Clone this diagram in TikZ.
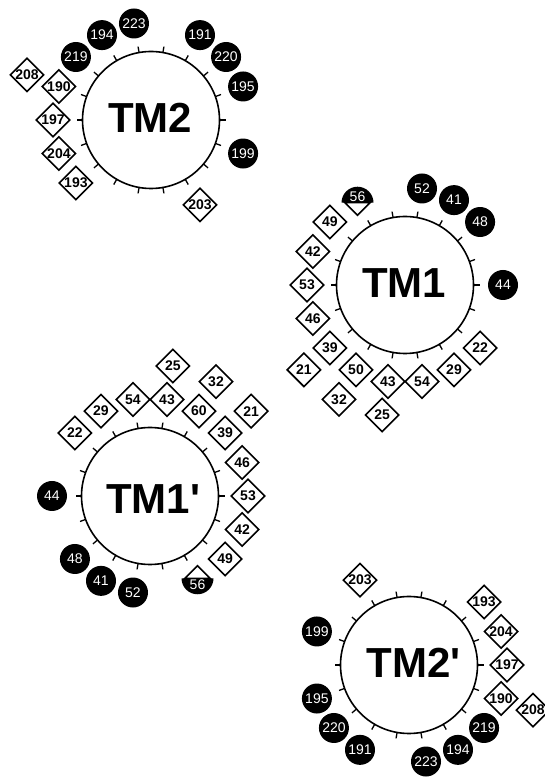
\documentclass[tikz,border=0pt]{standalone}
\usepackage{fontspec}
\usetikzlibrary{shapes.geometric}
\newfontfamily\numfont{Liberation Sans}
\tikzset{
  wheelline/.style={line width=1.6pt},
  tickline/.style={line width=1.3pt},
  blk/.style={circle, fill=black, minimum size=30pt, inner sep=0pt, text=white,
    font=\numfont\fontsize{14}{14}\selectfont},
  dmd/.style={diamond, draw=black, line width=1.6pt, minimum size=34pt, aspect=1,
    inner sep=0pt, font=\numfont\bfseries\fontsize{14}{14}\selectfont},
  halftxt/.style={inner sep=0pt, text=white, font=\numfont\fontsize{14}{14}\selectfont},
  tmlabel/.style={inner sep=0pt, font=\numfont\bfseries\fontsize{42}{42}\selectfont},
  pics/tmtwo/.style={code={
    \draw[wheelline] (0,0) circle[radius=68.5];
    \foreach \a in {0,20,...,340} \draw[tickline] (\a:68.5) -- (\a:74.5);
    \node[blk] (-r195) at (20:98) {195};
    \node[blk] (-r220) at (40:98) {220};
    \node[blk] (-r191) at (60:98) {191};
    \node[blk] (-r223) at (100:98) {223};
    \node[blk] (-r194) at (120:98) {194};
    \node[blk] (-r219) at (140:98) {219};
    \node[blk] (-r199) at (340:98) {199};
    \node[dmd] (-r190) at (160:98) {190};
    \node[dmd] (-r197) at (180:98) {197};
    \node[dmd] (-r204) at (200:98) {204};
    \node[dmd] (-r193) at (220:98) {193};
    \node[dmd] (-r203) at (300:98) {203};
    \node[dmd] (-r208) at (160:132) {208};
  }},
  pics/tmone/.style={code={
    \draw[wheelline] (0,0) circle[radius=68.5];
    \foreach \a in {0,20,...,340} \draw[tickline] (\a:68.5) -- (\a:74.5);
    \node[blk] (-r44) at (0:98) {44};
    \node[blk] (-r48) at (40:98) {48};
    \node[blk] (-r41) at (60:98) {41};
    \node[blk] (-r52) at (80:98) {52};
    \coordinate (-c56) at (120:95);
    \fill (-c56) ++(16,0) arc[start angle=0, end angle=180, radius=16] -- cycle;
    \draw[line width=1.5pt, fill=white] (-c56) ++(-12.5,0) -- ++(12.5,-12.5) -- ++(12.5,12.5) -- cycle;
    \path (-c56) ++(0,6) node[halftxt] (-r56) {56};
    \node[dmd] (-r49) at (140:98) {49};
    \node[dmd] (-r42) at (160:98) {42};
    \node[dmd] (-r53) at (180:98) {53};
    \node[dmd] (-r46) at (200:98) {46};
    \node[dmd] (-r39) at (220:98) {39};
    \node[dmd] (-r50) at (240:98) {#1};
    \node[dmd] (-r43) at (260:98) {43};
    \node[dmd] (-r54) at (280:98) {54};
    \node[dmd] (-r29) at (300:98) {29};
    \node[dmd] (-r22) at (320:98) {22};
    \node[dmd] (-r21) at (220:132) {21};
    \node[dmd] (-r32) at (240:132) {32};
    \node[dmd] (-r25) at (260:132) {25};
  }}
}
\begin{document}
\begin{tikzpicture}[x=1pt, y=1pt]
  \useasboundingbox (0,0) rectangle (545,777);
  \clip (0,0) rectangle (545,777);
  \pic (tmtwo) at (151,657) {tmtwo};
  \pic[rotate=180] (tmtwop) at (409,112) {tmtwo};
  \pic (tmone) at (405,492) {tmone=50};
  \pic[rotate=180] (tmonep) at (150,281) {tmone=60};
  \node[tmlabel] (lab2) at (150,659) {TM2};
  \node[tmlabel] (lab1) at (404,494) {TM1};
  \node[tmlabel] (lab1p) at (153,278) {TM1'};
  \node[tmlabel] (lab2p) at (413.5,114.5) {TM2'};
\end{tikzpicture}
\end{document}
